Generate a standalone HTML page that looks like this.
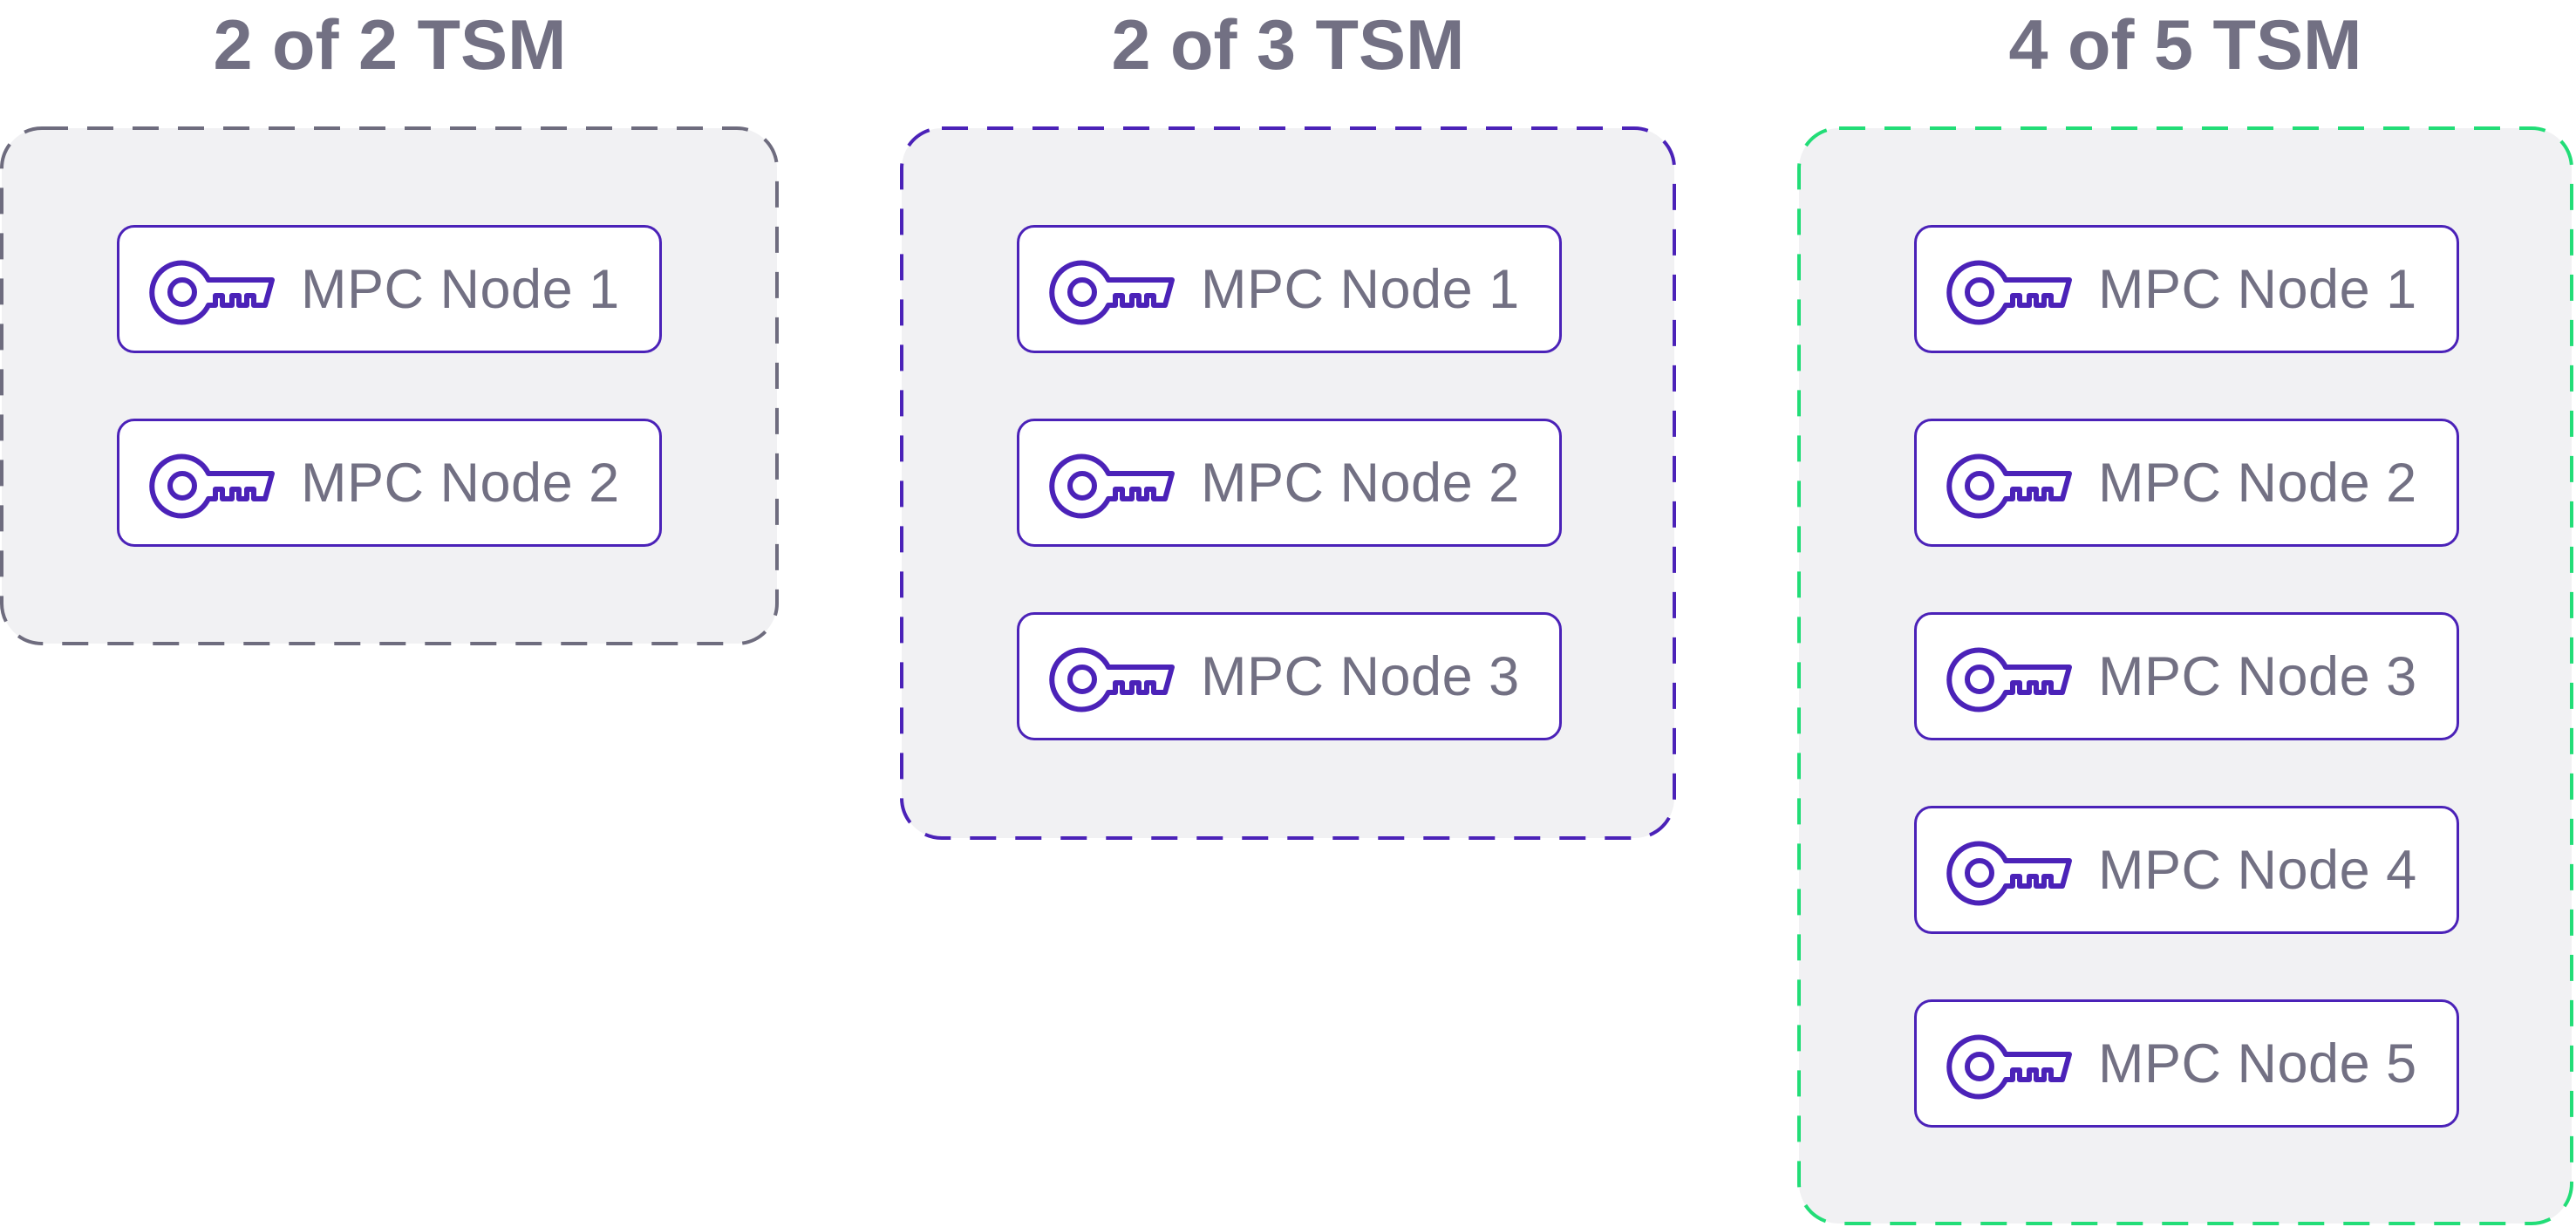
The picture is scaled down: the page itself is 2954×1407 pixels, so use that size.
<!DOCTYPE html>
<html><head><meta charset="utf-8"><style>
html,body{margin:0;padding:0;background:#fff;}
body{width:2954px;height:1407px;position:relative;overflow:hidden;font-family:"Liberation Sans",sans-serif;}
.title{position:absolute;top:2px;font-weight:bold;font-size:81px;color:#727083;text-align:center;width:890px;line-height:100px;}
.node{position:absolute;width:619px;height:141px;border:3px solid #4b22b8;border-radius:20px;background:#fff;}
.node svg{position:absolute;left:33px;top:35px;}
.node span{position:absolute;left:208px;top:36px;font-size:63px;line-height:70px;color:#727083;letter-spacing:0.5px;}
</style></head><body>
<svg width="2954" height="1407" style="position:absolute;left:0;top:0">
<rect x="2" y="147" width="889" height="591" rx="46" fill="#f1f1f3" stroke="#6e6c7e" stroke-width="4" stroke-dasharray="30 22"/>
<rect x="1034" y="147" width="886" height="814" rx="46" fill="#f1f1f3" stroke="#4b22b8" stroke-width="4" stroke-dasharray="30 22"/>
<rect x="2063" y="147" width="886" height="1256" rx="46" fill="#f1f1f3" stroke="#22dd77" stroke-width="4" stroke-dasharray="30 22"/>
</svg>
<div class="title" style="left:2px">2 of 2 TSM</div>
<div class="title" style="left:1032px">2 of 3 TSM</div>
<div class="title" style="left:2061px">4 of 5 TSM</div>
<div id="nodes"></div>
<script>
var key='<svg width="145" height="78" viewBox="-3 -3 145 78"><path d="M66 22 L139 22 L131 51 L118 51 L118 40 L110 40 L110 51 L101 51 L101 40 L93 40 L93 51 L82 51 L82 40 L74 40 L74 51 L66 51 A34 34 0 1 1 66 22 Z" fill="none" stroke="#4b22b8" stroke-width="6" stroke-linejoin="round"/><circle cx="36" cy="36" r="14" fill="none" stroke="#4b22b8" stroke-width="6"/></svg>';
var cols=[[134,2],[1166,3],[2195,5]],h='';
cols.forEach(function(c){for(var i=0;i<c[1];i++){h+='<div class="node" style="left:'+c[0]+'px;top:'+(258+222*i)+'px">'+key+'<span>MPC Node '+(i+1)+'</span></div>';}});
document.getElementById('nodes').innerHTML=h;
</script>
</body></html>
